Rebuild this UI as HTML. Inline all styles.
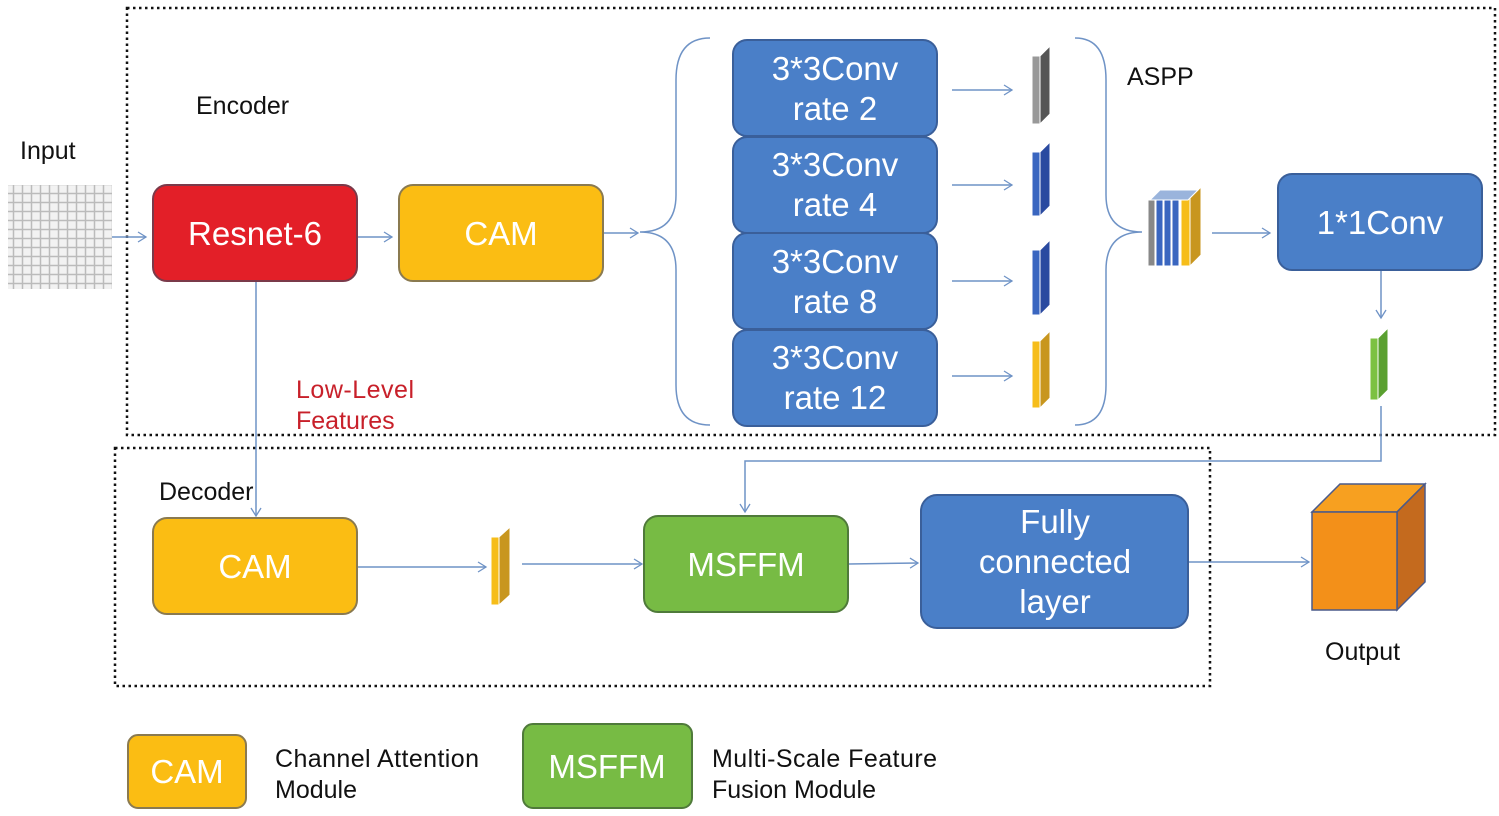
<!DOCTYPE html>
<html><head><style>body{margin:0;background:#fff}svg{display:block}text{font-family:"Liberation Sans",sans-serif}</style></head><body>
<svg width="1499" height="816" viewBox="0 0 1499 816" xmlns="http://www.w3.org/2000/svg">
<defs>
<pattern id="g" width="9" height="9" patternUnits="userSpaceOnUse"><rect width="9" height="9" fill="#f2f2f2"/><path d="M0 4.5H9M4.5 0V9" stroke="#bbb" stroke-width="1.5"/></pattern>
<marker id="a" markerWidth="12" markerHeight="12" refX="10" refY="6" orient="auto" markerUnits="userSpaceOnUse"><path d="M2 1L10 6L2 11" fill="none" stroke="#6f93c6" stroke-width="1.3"/></marker>
</defs>
<g fill="none" stroke="#111" stroke-width="2.5" stroke-dasharray="2.5 3.5">
<rect x="127" y="8" width="1368" height="427"/>
<rect x="115" y="448" width="1095" height="238"/>
</g>
<rect x="8" y="185" width="104" height="104" fill="url(#g)"/>
<g font-size="25" fill="#111">
<text x="20" y="159">Input</text>
<text x="196" y="114">Encoder</text>
<text x="1127" y="85">ASPP</text>
<text x="159" y="500">Decoder</text>
<text x="1325" y="660">Output</text>
<text x="275" y="767" textLength="204">Channel Attention</text><text x="275" y="798">Module</text>
<text x="712" y="767" textLength="225">Multi-Scale Feature</text><text x="712" y="798">Fusion Module</text>
</g>
<text x="296" y="398" font-size="25" fill="#c8202a" textLength="118">Low-Level</text>
<text x="296" y="429" font-size="25" fill="#c8202a">Features</text>
<g stroke="#6f93c6" stroke-width="1.5" fill="none">
<line x1="112" y1="237" x2="146" y2="237" marker-end="url(#a)"/>
<line x1="358" y1="237" x2="392" y2="237" marker-end="url(#a)"/>
<line x1="604" y1="233" x2="638" y2="233" marker-end="url(#a)"/>
<line x1="256" y1="282" x2="256" y2="516" marker-end="url(#a)"/>
<line x1="952" y1="90" x2="1012" y2="90" marker-end="url(#a)"/>
<line x1="952" y1="185" x2="1012" y2="185" marker-end="url(#a)"/>
<line x1="952" y1="281" x2="1012" y2="281" marker-end="url(#a)"/>
<line x1="952" y1="376" x2="1012" y2="376" marker-end="url(#a)"/>
<line x1="1212" y1="233" x2="1270" y2="233" marker-end="url(#a)"/>
<line x1="1381" y1="271" x2="1381" y2="318" marker-end="url(#a)"/>
<polyline points="1381,406 1381,461 745,461 745,512" marker-end="url(#a)"/>
<line x1="358" y1="567" x2="486" y2="567" marker-end="url(#a)"/>
<line x1="522" y1="564" x2="642" y2="564" marker-end="url(#a)"/>
<line x1="849" y1="564" x2="918" y2="563" marker-end="url(#a)"/>
<line x1="1189" y1="562" x2="1309" y2="562" marker-end="url(#a)"/>
<path d="M710 38 Q676 38 676 80 L676 195 Q676 232 640 232 Q676 232 676 270 L676 385 Q676 425 710 425"/>
<path d="M1075 38 Q1106 38 1106 80 L1106 195 Q1106 232 1142 232 Q1106 232 1106 270 L1106 385 Q1106 425 1075 425"/>
</g>
<g stroke-width="2" font-size="33" fill="#fff" text-anchor="middle">
<rect x="153" y="185" width="204" height="96" rx="14" fill="#e31f28" stroke="#7a3a4a"/>
<text x="255" y="245">Resnet-6</text>
<rect x="399" y="185" width="204" height="96" rx="14" fill="#fbbd13" stroke="#8a7a50"/>
<text x="501" y="245">CAM</text>
<g fill="#4a7fc8" stroke="#3a5f9a">
<rect x="733" y="40" width="204" height="96" rx="14"/>
<rect x="733" y="137" width="204" height="96" rx="14"/>
<rect x="733" y="233" width="204" height="96" rx="14"/>
<rect x="733" y="330" width="204" height="96" rx="14"/>
<rect x="1278" y="174" width="204" height="96" rx="14"/>
<rect x="921" y="495" width="267" height="133" rx="16"/>
</g>
<text x="835" y="80">3*3Conv</text><text x="835" y="120">rate 2</text>
<text x="835" y="176">3*3Conv</text><text x="835" y="216">rate 4</text>
<text x="835" y="273">3*3Conv</text><text x="835" y="313">rate 8</text>
<text x="835" y="369">3*3Conv</text><text x="835" y="409">rate 12</text>
<text x="1380" y="234">1*1Conv</text>
<text x="1055" y="533">Fully</text><text x="1055" y="573">connected</text><text x="1055" y="613">layer</text>
<rect x="153" y="518" width="204" height="96" rx="14" fill="#fbbd13" stroke="#8a7a50"/>
<text x="255" y="578">CAM</text>
<rect x="644" y="516" width="204" height="96" rx="14" fill="#77bb44" stroke="#4f7a3a"/>
<text x="746" y="576">MSFFM</text>
<rect x="128" y="735" width="118" height="73" rx="10" fill="#fbbd13" stroke="#8a7a50"/>
<text x="187" y="783">CAM</text>
<rect x="523" y="724" width="169" height="84" rx="10" fill="#77bb44" stroke="#4f7a3a"/>
<text x="607" y="778">MSFFM</text>
</g>
<g stroke="#fff" stroke-width="1">
<polygon points="1032,56 1040,56 1040,124 1032,124" fill="#999"/><polygon points="1040,56 1050,46 1050,114 1040,124" fill="#555"/>
<polygon points="1032,152 1040,152 1040,216 1032,216" fill="#3a66c0"/><polygon points="1040,152 1050,142 1050,206 1040,216" fill="#2a4aa0"/>
<polygon points="1032,250 1040,250 1040,315 1032,315" fill="#3a66c0"/><polygon points="1040,250 1050,240 1050,305 1040,315" fill="#2a4aa0"/>
<polygon points="1032,341 1040,341 1040,408 1032,408" fill="#f6bd1a"/><polygon points="1040,341 1050,331 1050,398 1040,408" fill="#c8961e"/>
<polygon points="1148,200 1155,200 1155,266 1148,266" fill="#888"/>
<polygon points="1156,200 1163,200 1163,266 1156,266" fill="#3a66c0"/>
<polygon points="1164,200 1171,200 1171,266 1164,266" fill="#3a66c0"/>
<polygon points="1172,200 1179,200 1179,266 1172,266" fill="#3a66c0"/>
<polygon points="1181,198 1190,198 1190,266 1181,266" fill="#f6bd1a"/><polygon points="1190,198 1201,187 1201,255 1190,266" fill="#c8961e"/>
<polygon points="1150,200 1160,190 1198,190 1188,200" fill="#9ab4dc"/>
<polygon points="1370,338 1378,338 1378,400 1370,400" fill="#7cc142"/><polygon points="1378,338 1388,328 1388,390 1378,400" fill="#5aa030"/>
<polygon points="491,537 499,537 499,605 491,605" fill="#f6bd1a"/><polygon points="499,537 510,527 510,595 499,605" fill="#c8961e"/>
</g>
<g stroke="#4a5a8a" stroke-width="1.5">
<polygon points="1312,512 1340,484 1425,484 1397,512" fill="#f7a020"/>
<polygon points="1397,512 1425,484 1425,582 1397,610" fill="#c46a1e"/>
<rect x="1312" y="512" width="85" height="98" fill="#f39019"/>
</g>
</svg>
</body></html>
